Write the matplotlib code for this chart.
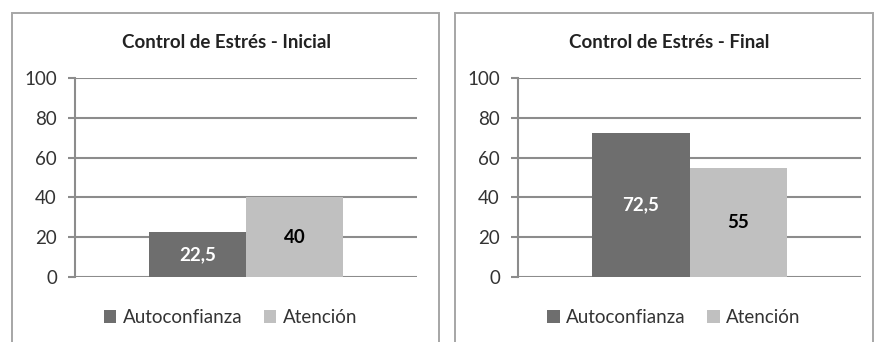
import matplotlib.pyplot as plt
from matplotlib.patches import Rectangle

# datos de los dos gráficos
series = ["Autoconfianza", "Atención"]
titulos = ["Control de Estrés - Inicial", "Control de Estrés - Final"]
inicial = [22.5, 40]
final = [72.5, 55]
etiquetas_inicial = ["22,5", "40"]
etiquetas_final = ["72,5", "55"]
yticks = [0, 20, 40, 60, 80, 100]

colores = ["#6e6e6e", "#c0c0c0"]
color_texto = ["white", "black"]

plt.rcParams['font.family'] = ['Lato', 'DejaVu Sans']

fig = plt.figure(figsize=(8.75, 3.42), dpi=100)
W, H = 875, 342

# marcos de cada gráfico (el borde inferior queda fuera de la imagen)
for x0, x1 in [(12, 439), (455, 873)]:
    fig.patches.append(Rectangle((x0 / W, -0.05), (x1 - x0) / W, 1.05 - 13 / H,
                                 transform=fig.transFigure, fill=False,
                                 edgecolor="#a6a6a6", linewidth=1.4))

def grafico(ax_px, titulo, valores, etiquetas, title_x):
    x0, x1 = ax_px
    ax = fig.add_axes([x0 / W, 1 - 277 / H, (x1 - x0) / W, 199 / H])
    ancho = 0.283
    for i, (v, lab) in enumerate(zip(valores, etiquetas)):
        pos = (i - 0.5) * ancho
        ax.bar(pos, v, width=ancho, color=colores[i], label=series[i], zorder=3)
        ax.text(pos, v / 2, lab, ha="center", va="center", fontsize=13.5,
                fontweight="bold", color=color_texto[i], zorder=4)
    ax.set_xlim(-0.5, 0.5)
    ax.set_ylim(0, 100)
    ax.set_yticks(yticks)
    ax.set_xticks([])
    ax.grid(axis="y", color="#8c8c8c", linewidth=1.5, zorder=1)
    for s in ["top", "right", "bottom"]:
        ax.spines[s].set_visible(False)
    ax.spines["left"].set_color("#8c8c8c")
    ax.spines["left"].set_linewidth(1.5)
    ax.tick_params(axis="y", length=5, width=1.5, color="#8c8c8c",
                   labelsize=13.5, labelcolor="#333333", pad=8)
    fig.text(title_x / W, 1 - 42 / H, titulo, ha="center", va="center",
             fontsize=13.5, fontweight="bold", color="#222222")
    ax.legend(loc="center", bbox_to_anchor=(0.455, -0.205), ncol=2, frameon=False,
              fontsize=13.5, handlelength=0.65, handleheight=0.65,
              handletextpad=0.35, columnspacing=1.15, labelcolor="#333333")
    return ax

grafico((75, 417), titulos[0], inicial, etiquetas_inicial, 226)
grafico((518, 861), titulos[1], final, etiquetas_final, 669)

fig.savefig("out.png", dpi=100, facecolor="white")
